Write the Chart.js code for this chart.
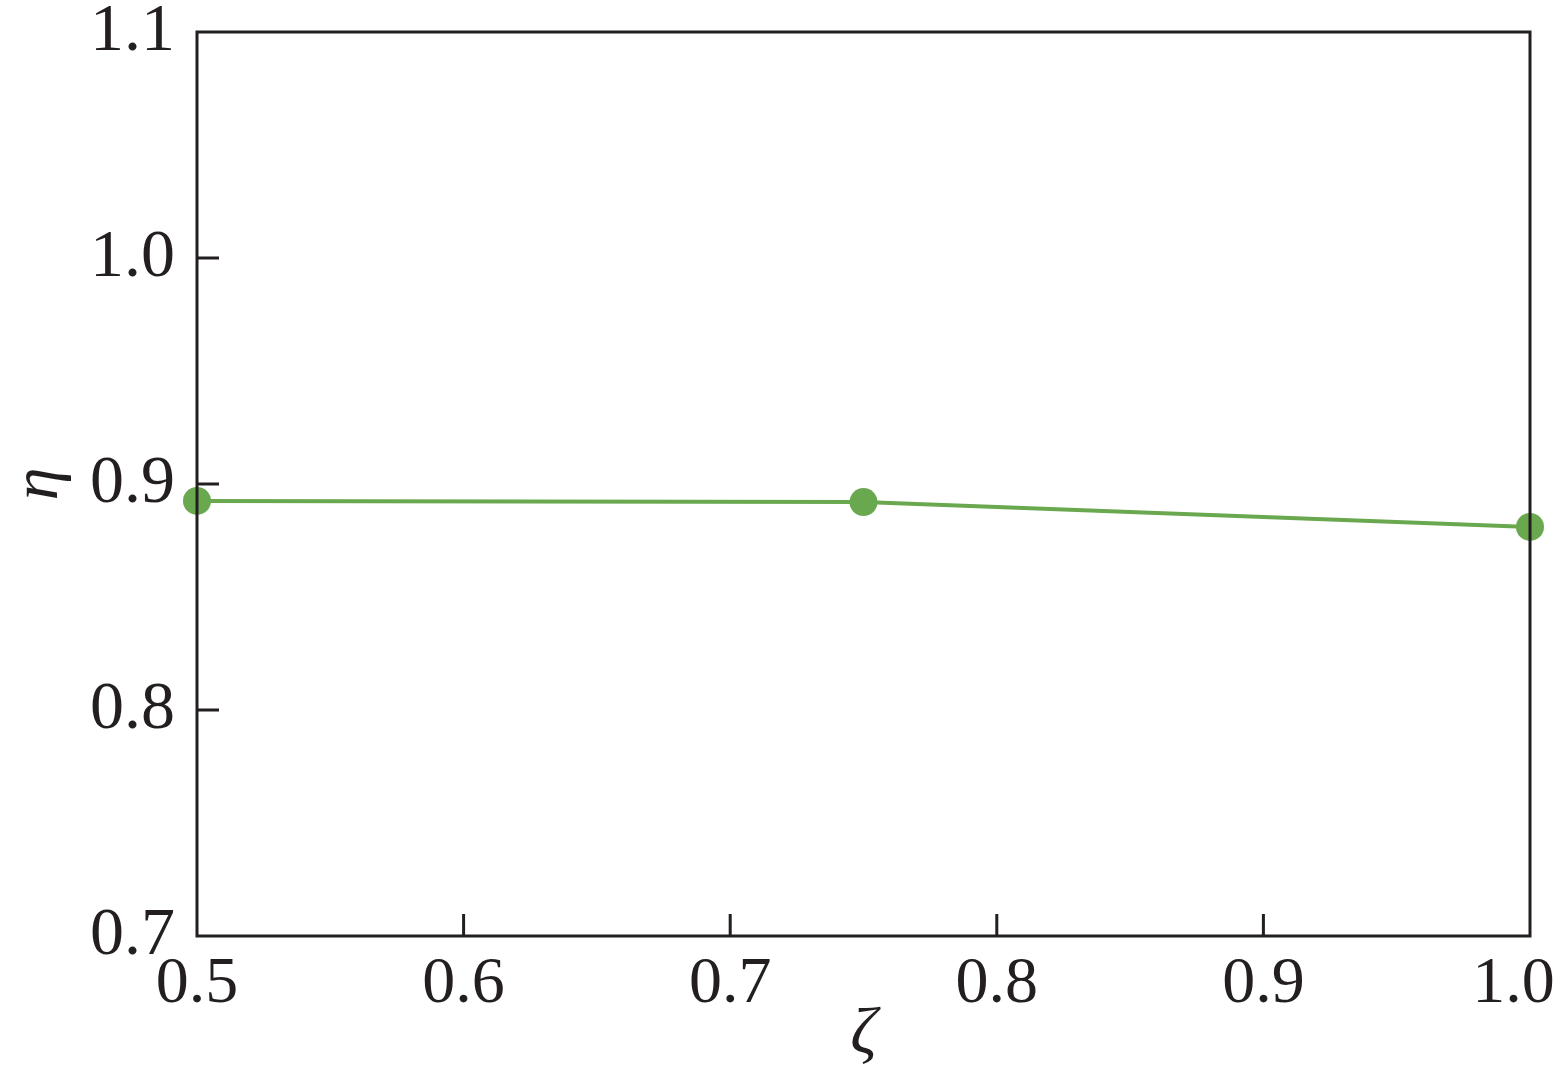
<!DOCTYPE html>
<html>
<head>
<meta charset="utf-8">
<script src="https://cdn.jsdelivr.net/npm/chart.js@4.4.0/dist/chart.umd.min.js"></script>
<style>
  html, body { margin: 0; padding: 0; background: #fff; }
  #wrap { width: 1563px; height: 1075px; }
</style>
</head>
<body>
<div id="wrap"><canvas id="chart" width="1563" height="1075"></canvas></div>
<script>
// values
const zeta = [0.5, 0.75, 1.0];
const eta = [0.8925, 0.892, 0.881];
const xTicks = [0.5, 0.6, 0.7, 0.8, 0.9, 1.0];
const yTicks = [0.7, 0.8, 0.9, 1.0, 1.1];

const ink = '#231f20';
const green = '#6aa84f';
const serif = '"Liberation Serif", serif';

// frame + inward tick marks
const framePlugin = {
  id: 'frame',
  afterDraw(chart) {
    const { ctx, chartArea: a, scales } = chart;
    ctx.save();
    ctx.strokeStyle = ink;
    ctx.lineWidth = 3;
    ctx.strokeRect(a.left, a.top, a.right - a.left, a.bottom - a.top);
    ctx.beginPath();
    xTicks.slice(1, -1).forEach(v => {
      const x = scales.x.getPixelForValue(v);
      ctx.moveTo(x, a.bottom);
      ctx.lineTo(x, a.bottom - 22);
    });
    yTicks.slice(1, -1).forEach(v => {
      const y = scales.y.getPixelForValue(v);
      ctx.moveTo(a.left, y);
      ctx.lineTo(a.left + 22, y);
    });
    ctx.stroke();
    ctx.restore();
  }
};

new Chart(document.getElementById('chart'), {
  type: 'line',
  data: {
    datasets: [{
      data: zeta.map((z, i) => ({ x: z, y: eta[i] })),
      borderColor: green,
      backgroundColor: green,
      borderWidth: 4,
      pointRadius: 14,
      pointHoverRadius: 14,
      pointBorderWidth: 0,
      clip: false,
      tension: 0
    }]
  },
  options: {
    responsive: false,
    animation: false,
    layout: { padding: { top: 32, right: 33, left: 0, bottom: 0 } },
    plugins: { legend: { display: false }, tooltip: { enabled: false } },
    scales: {
      x: {
        type: 'linear',
        min: 0.5,
        max: 1.0,
        afterBuildTicks: s => { s.ticks = xTicks.map(v => ({ value: v })); },
        afterFit: s => {
          s.height = 139;
          s.paddingLeft = 0;
          s.paddingRight = 0;
        },
        grid: { display: false, drawTicks: false },
        border: { display: false },
        ticks: {
          color: ink,
          padding: 9,
          maxRotation: 0,
          font: { family: serif, size: 66 },
          // keep the last label inside the canvas like the original
          callback: v => v === 1 ? '1.0\u2002' : v.toFixed(1)
        },
        title: {
          display: true,
          text: 'ζ',
          color: ink,
          padding: { top: 0, bottom: 0 },
          font: { family: serif, size: 66, style: 'italic' }
        }
      },
      y: {
        type: 'linear',
        min: 0.7,
        max: 1.1,
        afterBuildTicks: s => { s.ticks = yTicks.map(v => ({ value: v })); },
        afterFit: s => {
          s.width = 197;
          s.paddingTop = 0;
          s.paddingBottom = 0;
        },
        grid: { display: false, drawTicks: false },
        border: { display: false },
        ticks: {
          color: ink,
          padding: 22,
          font: { family: serif, size: 68 },
          callback: v => v.toFixed(1)
        },
        title: {
          display: true,
          text: 'η',
          color: ink,
          padding: { top: 0, bottom: 0 },
          font: { family: serif, size: 66, style: 'italic' }
        }
      }
    }
  },
  plugins: [framePlugin]
});
</script>
</body>
</html>
